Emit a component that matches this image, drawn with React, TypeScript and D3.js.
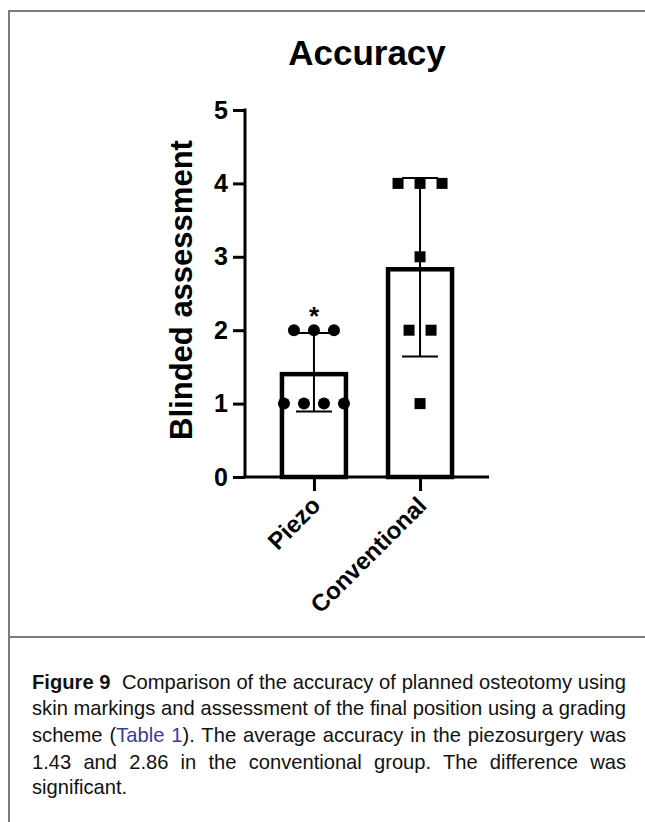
import React, { useEffect, useRef } from 'react';
import * as d3 from 'd3';

const categories = ['Piezo', 'Conventional'];
const piezoScores = [2, 2, 2, 1, 1, 1, 1];
const conventionalScores = [4, 4, 4, 3, 2, 2, 1];
const yTicks = [0, 1, 2, 3, 4, 5];

const captionLines = [
  [{ t: 'Figure 9', bold: true }, { t: '  Comparison of the accuracy of planned osteotomy using' }],
  [{ t: 'skin markings and assessment of the final position using a grading' }],
  [{ t: 'scheme (' }, { t: 'Table 1', link: true }, { t: '). The average accuracy in the piezosurgery was' }],
  [{ t: '1.43 and 2.86 in the conventional group. The difference was' }],
  [{ t: 'significant.' }],
];

const FONT = "'Liberation Sans', Arial, Helvetica, sans-serif";

const App = () => {
  const ref = useRef<SVGSVGElement>(null);

  useEffect(() => {
    const svg = d3.select(ref.current);
    svg.selectAll('*').remove();

    // frame
    svg.append('path')
      .attr('d', 'M9,822 V11 H645 M9,637 H645')
      .attr('fill', 'none')
      .attr('stroke', '#7d7d7d')
      .attr('stroke-width', 2);

    const x = d3.scalePoint().domain(categories).range([245, 489]).padding(0.65);
    const y = d3.scaleLinear().domain([0, 5]).range([477, 110]);

    const groups = [
      { cat: 'Piezo', values: piezoScores, shape: 'circle', gap: 20 },
      { cat: 'Conventional', values: conventionalScores, shape: 'square', gap: 22 },
    ];

    // bars
    groups.forEach((g) => {
      const m = d3.mean(g.values)!;
      const cx = x(g.cat)!;
      svg.append('rect')
        .attr('x', cx - 32)
        .attr('y', y(m) + 2)
        .attr('width', 64)
        .attr('height', y(0) - y(m) - 2)
        .attr('fill', '#fff')
        .attr('stroke', '#000')
        .attr('stroke-width', 4.5);
    });

    // axes
    const yAxis = svg.append('g')
      .attr('transform', 'translate(245,0)')
      .call(d3.axisLeft(y).tickValues(yTicks).tickSize(12).tickSizeOuter(0).tickPadding(5).tickFormat(d3.format('d')));
    yAxis.select('.domain').attr('d', `M0,${y(5) - 1.5}V${y(0)}`);
    yAxis.selectAll('path, line').attr('stroke', '#000').attr('stroke-width', 3);
    yAxis.selectAll('text')
      .attr('font-weight', 'bold')
      .attr('font-size', 25)
      .attr('fill', '#000')
      .style('font-family', FONT);

    const xAxis = svg.append('g')
      .attr('transform', `translate(0,${y(0)})`)
      .call(d3.axisBottom(x).tickSize(14).tickSizeOuter(0));
    xAxis.select('.domain').attr('d', 'M243.5,0H489');
    xAxis.selectAll('path, line').attr('stroke', '#000').attr('stroke-width', 3);
    xAxis.selectAll('text').remove();

    categories.forEach((c) => {
      svg.append('text')
        .attr('transform', `translate(${x(c)! + 8},${y(0) + 30}) rotate(-45)`)
        .attr('text-anchor', 'end')
        .attr('font-weight', 'bold')
        .attr('font-size', 24)
        .style('font-family', FONT)
        .text(c);
    });

    // error bars (mean ± SD)
    groups.forEach((g) => {
      const m = d3.mean(g.values)!;
      const sd = d3.deviation(g.values)!;
      const cx = x(g.cat)!;
      const e = svg.append('g').attr('stroke', '#000').attr('stroke-width', 2);
      e.append('line').attr('x1', cx).attr('x2', cx).attr('y1', y(m - sd)).attr('y2', y(m + sd));
      [m - sd, m + sd].forEach((v) => {
        e.append('line').attr('x1', cx - 18).attr('x2', cx + 18).attr('y1', y(v)).attr('y2', y(v));
      });
    });

    // points
    groups.forEach((g) => {
      const cx = x(g.cat)!;
      const byVal = d3.group(g.values, (v) => v);
      byVal.forEach((vals, v) => {
        vals.forEach((_, i) => {
          const px = cx + (i - (vals.length - 1) / 2) * g.gap;
          if (g.shape === 'circle') {
            svg.append('circle').attr('cx', px).attr('cy', y(v)).attr('r', 6).attr('fill', '#000');
          } else {
            svg.append('rect').attr('x', px - 5.5).attr('y', y(v) - 5.5).attr('width', 11).attr('height', 11).attr('fill', '#000');
          }
        });
      });
    });

    // significance mark
    const pm = d3.mean(piezoScores)! + d3.deviation(piezoScores)!;
    svg.append('text')
      .attr('x', x('Piezo')!)
      .attr('y', y(pm) - 8)
      .attr('text-anchor', 'middle')
      .attr('font-weight', 'bold')
      .attr('font-size', 26)
      .style('font-family', FONT)
      .text('*');

    // title & y label
    svg.append('text')
      .attr('x', 367)
      .attr('y', 65)
      .attr('text-anchor', 'middle')
      .attr('font-weight', 'bold')
      .attr('font-size', 35)
      .style('font-family', FONT)
      .text('Accuracy');

    svg.append('text')
      .attr('transform', 'translate(192,290) rotate(-90)')
      .attr('text-anchor', 'middle')
      .attr('font-weight', 'bold')
      .attr('font-size', 31)
      .style('font-family', FONT)
      .text('Blinded assessment');

    // caption: slightly condensed, justified lines
    const baselines = [689, 715, 742, 769, 794];
    const sx = 0.96;
    const lineWidth = 594 / sx;
    const cap = svg.append('g').attr('transform', `translate(32,0) scale(${sx},1)`);
    captionLines.forEach((segs, i) => {
      const t = cap.append('text')
        .attr('x', 0)
        .attr('y', baselines[i])
        .attr('font-size', 21)
        .attr('fill', '#111')
        .style('font-family', FONT)
        .style('white-space', 'pre');
      segs.forEach((s: any) => {
        t.append('tspan')
          .attr('font-weight', s.bold ? 'bold' : null)
          .attr('fill', s.link ? '#3b3b9e' : null)
          .text(s.t);
      });
      if (i < captionLines.length - 1) {
        const node = t.node() as SVGTextElement;
        const w = node.getComputedTextLength();
        const full = segs.map((s) => s.t).join('');
        const spaces = (full.match(/ /g) || []).length;
        t.style('word-spacing', `${(lineWidth - w) / spaces}px`);
      }
    });
  }, []);

  return (
    <svg
      ref={ref}
      width={645}
      height={822}
      style={{ position: 'absolute', left: 0, top: 0, background: '#fff' }}
    />
  );
};

export default App;
